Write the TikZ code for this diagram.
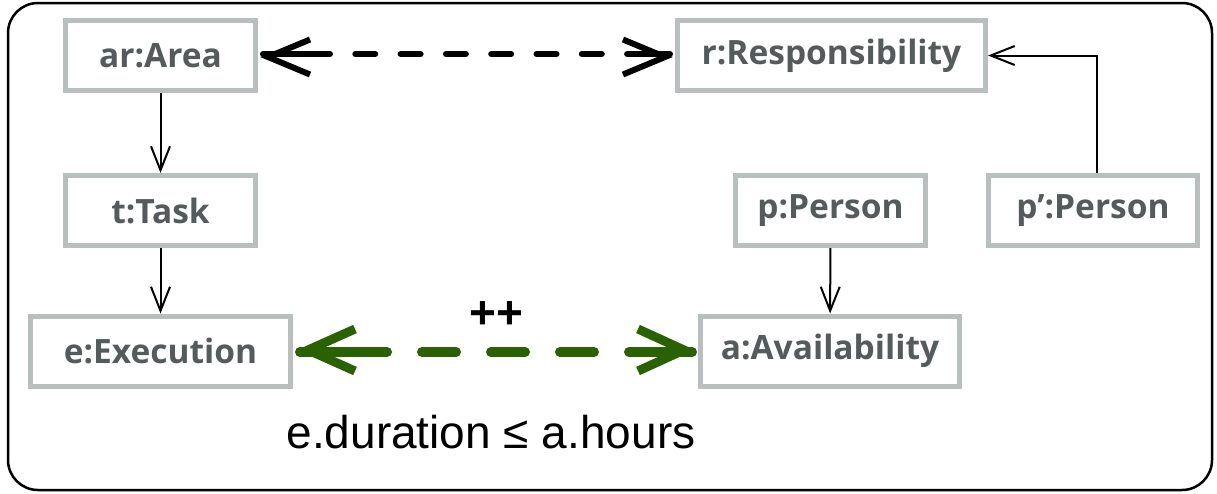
\documentclass[tikz,border=0pt]{standalone}
\usepackage{fontspec}
\setmainfont{Liberation Sans}
\newfontfamily\boxfont{Open Sans}
\usetikzlibrary{arrows.meta}
\definecolor{boxgray}{HTML}{B9BEBF}
\definecolor{txtgray}{HTML}{555B5C}
\definecolor{dgreen}{HTML}{2A6203}
\tikzset{
  obj/.style={draw=boxgray, line width=5pt, fill=white, minimum height=70pt, inner sep=0pt,
    font=\boxfont\bfseries\fontsize{33.5}{38}\selectfont, text=txtgray},
  thinarrow/.style={line width=2pt, -{Straight Barb[length=24pt,width=19pt,line width=2pt]}},
  blackdash/.style={line width=6pt, line cap=round,
    dash pattern=on 67pt off 25.3pt on 20pt off 25.3pt on 20pt off 25.3pt on 20pt off 25.3pt on 20pt off 25.3pt on 20pt off 25.3pt on 20pt off 25.3pt on 43.2pt off 200pt},
  blacktip/.style={line width=6pt, line join=miter, miter limit=20},
  greendash/.style={draw=dgreen, line width=10pt, line cap=round,
    dash pattern=on 87pt off 35pt on 34pt off 35pt on 34pt off 35pt on 34pt off 35pt on 63pt off 200pt},
  greentip/.style={draw=dgreen, line width=9pt, line join=miter, miter limit=20}
}
\begin{document}
\begin{tikzpicture}[x=1pt,y=-1pt]
\useasboundingbox (0,0) rectangle (1217,493);
\draw[line width=2.5pt, rounded corners=30pt] (8,3) rectangle (1212,490);
\node[obj, minimum width=190pt] (ar) at (160.5,55.5) {ar:Area};
\node[obj, minimum width=308pt] (r) at (831.5,55.5) {r:Responsibility};
\node[obj, minimum width=190pt] (t) at (160.5,210.5) {t:Task};
\node[obj, minimum width=190pt] (p) at (830.5,210.5) {p:Person};
\node[obj, minimum width=209pt] (pp) at (1093,210.5) {p’:Person};
\node[obj, minimum width=260pt] (e) at (160.5,351) {e:Execution};
\node[obj, minimum width=259pt] (a) at (830,351) {a:Availability};
% black dashed double arrow
\draw[blackdash, shorten <=5pt, shorten >=5pt] ([yshift=1.5pt]ar.east) -- ([yshift=1.5pt]r.west);
\draw[blacktip] ([shift={(52,-16)}]ar.east) -- ([shift={(10,1.5)}]ar.east) -- ([shift={(52,19)}]ar.east);
\draw[blacktip] ([shift={(-52,-16)}]r.west) -- ([shift={(-10,1.5)}]r.west) -- ([shift={(-52,19)}]r.west);
% thin arrows
\draw[thinarrow] (ar) -- (t);
\draw[thinarrow] (t) -- (e);
\draw[thinarrow] (p) -- (a);
\draw[thinarrow] ([xshift=4pt]pp.north) |- (r.east);
% green dashed double arrow
\draw[greendash, shorten <=7pt, shorten >=6pt] ([yshift=-1pt]e.east) -- ([yshift=-1pt]a.west);
\draw[greentip] ([shift={(62,-22)}]e.east) -- ([shift={(15,-1)}]e.east) -- ([shift={(62,20)}]e.east);
\draw[greentip] ([shift={(-60,-22)}]a.west) -- ([shift={(-14,-1)}]a.west) -- ([shift={(-60,20)}]a.west);
\node[font=\bfseries\fontsize{46}{52}\selectfont] (pl) at (496,315) {++};
\node[font=\fontsize{46}{52}\selectfont, anchor=base] (c) at (491,448) {e.duration ≤ a.hours};
\end{tikzpicture}
\end{document}
